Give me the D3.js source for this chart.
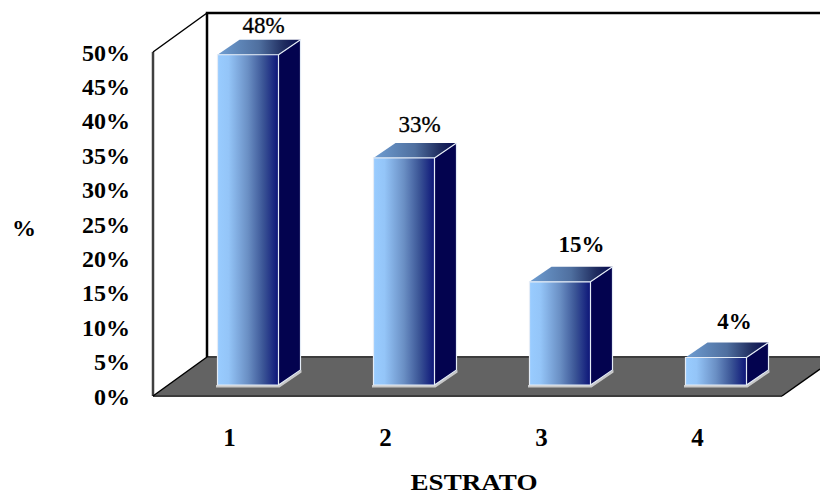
<!DOCTYPE html>
<html>
<head>
<meta charset="utf-8">
<script src="https://cdn.jsdelivr.net/npm/d3@7/dist/d3.min.js"></script>
<style>
html,body{margin:0;padding:0;background:#fff}
svg{display:block}
text{font-family:"Liberation Serif","Times New Roman",serif;font-weight:bold;fill:#000}
</style>
</head>
<body>
<svg id="chart" width="820" height="495"></svg>
<script>
const categories = ["1", "2", "3", "4"];
const values = [48, 33, 15, 4];
const valueLabels = ["48%", "33%", "15%", "4%"];
const tickValues = [0, 5, 10, 15, 20, 25, 30, 35, 40, 45, 50];
const axisTitleY = "%";
const axisTitleX = "ESTRATO";

const svg = d3.select("#chart");

// Oblique projection: the wall sits up and to the right of the front plane.
const wallDx = 54, wallDy = -39;
const frontLeft = 153, frontBottom = 396, frontTop = 52, frontRight = 782;

const y = d3.scaleLinear().domain([0, 50]).range([frontBottom, frontTop]);
const x = d3.scaleBand().domain(categories).range([217.5, 217.5 + 156 * 3 + 61]).paddingInner(95 / 156).paddingOuter(0);
const baseLift = 11;
const barDx = 22, barDy = -15;

const defs = svg.append("defs");
const grad = (id, stops) => {
  const g = defs.append("linearGradient").attr("id", id);
  stops.forEach(([o, c]) => g.append("stop").attr("offset", o).attr("stop-color", c));
};
grad("frontFill", [[0, "#99ccff"], [0.18, "#94c5f8"], [0.5, "#6a8fc4"], [0.75, "#3b5596"], [1, "#0c1478"]]);
grad("topFill", [[0, "#6f9ed2"], [0.5, "#4f6f9f"], [0.8, "#1f2c5f"], [1, "#060a50"]]);

// Floor
const floorPts = [[frontLeft, frontBottom], [frontLeft + wallDx, frontBottom + wallDy],
  [820, frontBottom + wallDy], [820, 369], [frontRight, frontBottom]];
svg.append("polygon").attr("points", floorPts.join(" ")).attr("fill", "#636363");
svg.append("line").attr("x1", frontLeft + wallDx).attr("x2", 820)
  .attr("y1", frontBottom + wallDy).attr("y2", frontBottom + wallDy).attr("stroke", "#3c3c3c").attr("stroke-width", 2);
svg.append("line").attr("x1", frontLeft).attr("x2", frontRight)
  .attr("y1", frontBottom).attr("y2", frontBottom).attr("stroke", "#3c3c3c").attr("stroke-width", 2);
svg.append("line").attr("x1", frontRight).attr("x2", 820)
  .attr("y1", frontBottom).attr("y2", 369).attr("stroke", "#000").attr("stroke-width", 1.5);

// Back wall and side wall outlines
svg.append("path").attr("fill", "none").attr("stroke", "#000").attr("stroke-width", 2.5)
  .attr("d", `M${frontLeft + wallDx},${frontBottom + wallDy}V${frontTop + wallDy}H820`);
svg.append("line").attr("x1", frontLeft).attr("x2", frontLeft).attr("y1", frontBottom).attr("y2", frontTop)
  .attr("stroke", "#404040").attr("stroke-width", 2.5);
svg.append("path").attr("fill", "none").attr("stroke", "#000").attr("stroke-width", 1.5)
  .attr("d", `M${frontLeft},${frontTop}L${frontLeft + wallDx},${frontTop + wallDy}M${frontLeft},${frontBottom}L${frontLeft + wallDx},${frontBottom + wallDy}`);

// Value labels sit unevenly above the bars, so each has its own small nudge.
const labelNudgeX = [0, 0, 6, 3];
const labelNudgeY = [5, 1, -3, -1];
const labelWeight = ["normal", "normal", "bold", "bold"];

// Bars
const bars = svg.selectAll("g.bar").data(categories).join("g").attr("class", "bar");
bars.each(function (d, i) {
  const g = d3.select(this);
  const l = x(d), r = l + x.bandwidth();
  const b = frontBottom - baseLift;
  const t = b - (frontBottom - y(values[i]));
  g.append("polygon")
    .attr("points", [[l - 1.5, b + 2.5], [r + 1, b + 2.5], [r + barDx + 1, b + barDy + 2.5], [r + barDx + 1, b + barDy], [r, b], [l - 1.5, b]].join(" "))
    .attr("fill", "#c8c8c8");
  g.append("polygon").attr("points", [[r, t], [r + barDx, t + barDy], [r + barDx, b + barDy], [r, b]].join(" "))
    .attr("fill", "#03034f");
  g.append("polygon").attr("points", [[l, t], [l + barDx, t + barDy], [r + barDx, t + barDy], [r, t]].join(" "))
    .attr("fill", "url(#topFill)");
  g.append("rect").attr("x", l).attr("y", t).attr("width", r - l).attr("height", b - t)
    .attr("fill", "url(#frontFill)");
  g.append("path").attr("fill", "none").attr("stroke", "#e4ecf6").attr("stroke-width", 1.2)
    .attr("d", `M${l},${b}V${t}H${r}V${b}Z M${r},${t}L${r + barDx},${t + barDy} M${r},${b}L${r + barDx},${b + barDy}V${t + barDy}`);
  g.append("text").attr("x", l + 46 + labelNudgeX[i]).attr("y", t - 27 + labelNudgeY[i])
    .attr("text-anchor", "middle").attr("font-size", 23).style("font-weight", labelWeight[i])
    .attr("stroke", "#000").attr("stroke-width", labelWeight[i] === "normal" ? 0.3 : 0)
    .text(valueLabels[i]);
  g.append("text").attr("x", l + 12).attr("y", 446).attr("text-anchor", "middle").attr("font-size", 25)
    .text(d);
});

// Value axis tick labels
svg.selectAll("text.tick").data(tickValues).join("text").attr("class", "tick")
  .attr("x", 130).attr("y", d => y(d) + 8.5).attr("text-anchor", "end").attr("font-size", 24)
  .text(d => d + "%");

svg.append("text").attr("x", 24).attr("y", 236).attr("text-anchor", "middle").attr("font-size", 24).text(axisTitleY);
svg.append("text").attr("x", 474).attr("y", 489.7).attr("text-anchor", "middle").attr("font-size", 24)
  .attr("textLength", 127).attr("lengthAdjust", "spacingAndGlyphs").text(axisTitleX);
</script>
</body>
</html>
